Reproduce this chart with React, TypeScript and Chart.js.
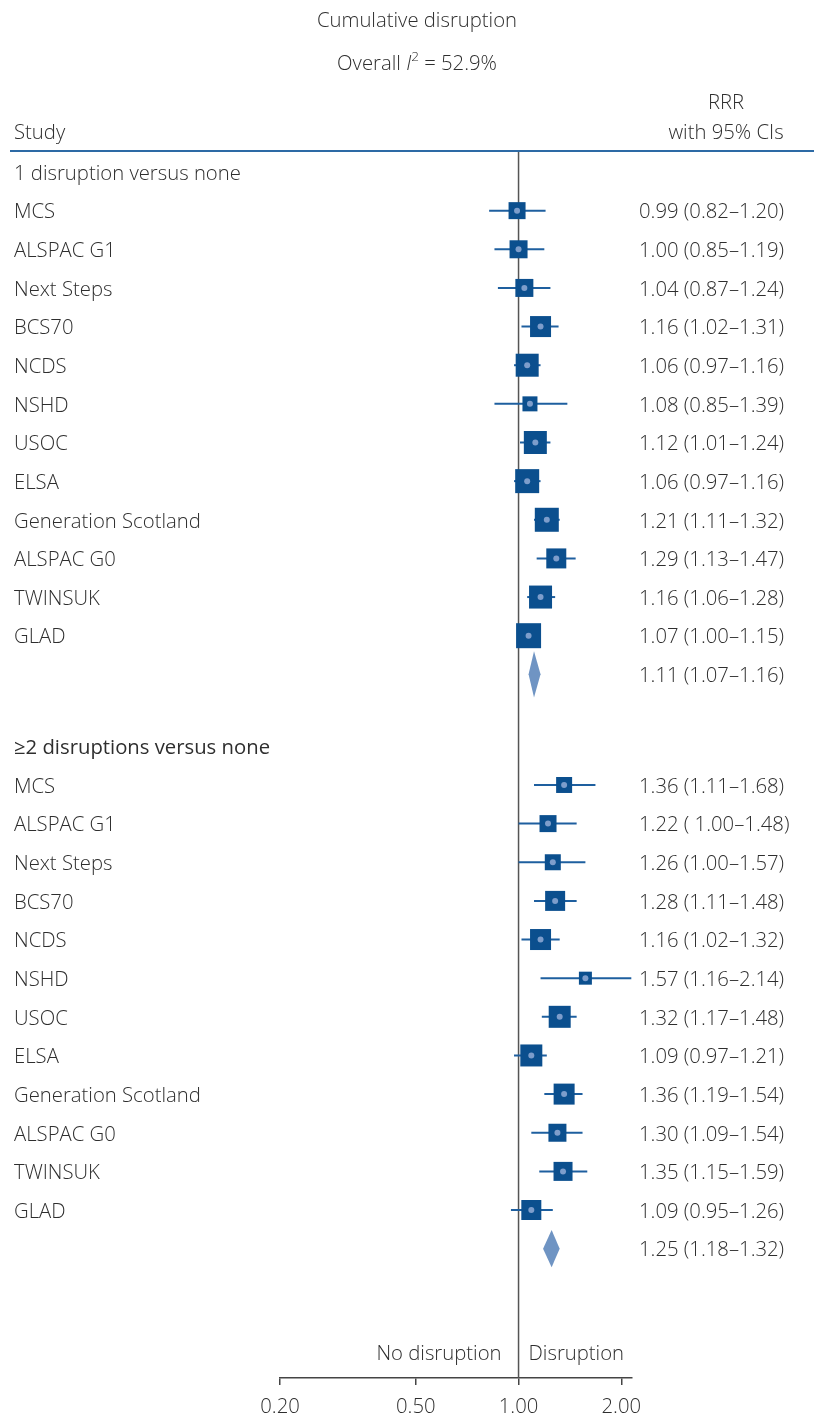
import { useEffect, useRef } from 'react';
import { Chart, registerables } from 'chart.js';

Chart.register(...registerables);

const W = 814;
const H = 1417;

// ---------- data ----------
const TITLE = 'Cumulative disruption';
const I2_VALUE = '52.9%';
const GROUP_HEADERS = ['1 disruption versus none', '\u22652 disruptions versus none'];
const STUDIES = [
  'MCS', 'ALSPAC G1', 'Next Steps', 'BCS70', 'NCDS', 'NSHD',
  'USOC', 'ELSA', 'Generation Scotland', 'ALSPAC G0', 'TWINSUK', 'GLAD',
];

const RRR_1 = [0.99, 1.0, 1.04, 1.16, 1.06, 1.08, 1.12, 1.06, 1.21, 1.29, 1.16, 1.07];
const LOW_1 = [0.82, 0.85, 0.87, 1.02, 0.97, 0.85, 1.01, 0.97, 1.11, 1.13, 1.06, 1.0];
const HIGH_1 = [1.2, 1.19, 1.24, 1.31, 1.16, 1.39, 1.24, 1.16, 1.32, 1.47, 1.28, 1.15];

const RRR_2 = [1.36, 1.22, 1.26, 1.28, 1.16, 1.57, 1.32, 1.09, 1.36, 1.3, 1.35, 1.09];
const LOW_2 = [1.11, 1.0, 1.0, 1.11, 1.02, 1.16, 1.17, 0.97, 1.19, 1.09, 1.15, 0.95];
const HIGH_2 = [1.68, 1.48, 1.57, 1.48, 1.32, 2.14, 1.48, 1.21, 1.54, 1.54, 1.59, 1.26];

const POOLED = [1.11, 1.25];
const POOLED_LOW = [1.07, 1.18];
const POOLED_HIGH = [1.16, 1.32];

// study weights shown as box side (px)
const BOX_1 = [17, 18, 18, 21, 23, 15, 23, 24, 24, 20, 23, 25];
const BOX_2 = [16, 17, 16, 20, 21, 13, 22, 22, 21, 18, 19, 20];

const X_TICKS = [0.2, 0.5, 1.0, 2.0];
const LEFT_LABEL = 'No disruption';
const RIGHT_LABEL = 'Disruption';

// ---------- layout / style ----------
const FONT = '"Open Sans", "Noto Sans", sans-serif';
const FS = 20.3;
const TEXT_COLOR = '#2e2e2e';
const BOX_COLOR = '#0b4f8e';
const CI_COLOR = '#1e5f9f';
const DOT_COLOR = '#7d9dcb';
const DIAMOND_COLOR = '#6f94c3';
const RULE_COLOR = '#2d6aa5';
const GROUP2_START = 14.863;
const DIAMOND_HALF = [0.6, 0.48];
const TDY = 2;

const fmt = (v: number) => v.toFixed(2);
const ciText = (v: number, lo: number, hi: number, pad = '') => `${fmt(v)} (${pad}${fmt(lo)}\u2013${fmt(hi)})`;

const groups = [
  { header: GROUP_HEADERS[0], start: 0, rrr: RRR_1, low: LOW_1, high: HIGH_1, box: BOX_1, hw: 300 },
  { header: GROUP_HEADERS[1], start: GROUP2_START, rrr: RRR_2, low: LOW_2, high: HIGH_2, box: BOX_2, hw: 400 },
];

function buildDatasets() {
  const ds: any[] = [];
  const pts: { x: number; y: number }[] = [];
  const radii: number[] = [];
  groups.forEach((g, gi) => {
    STUDIES.forEach((_, i) => {
      const y = g.start + 1 + i;
      ds.push({
        data: [{ x: g.low[i], y }, { x: g.high[i], y }],
        showLine: true,
        borderColor: CI_COLOR,
        borderWidth: 2,
        pointRadius: 0,
        order: 3,
      });
      pts.push({ x: g.rrr[i], y });
      radii.push(g.box[i] / Math.SQRT2);
    });
    const py = g.start + 13;
    const h = DIAMOND_HALF[gi];
    ds.push({
      data: [
        { x: POOLED_LOW[gi], y: py },
        { x: POOLED[gi], y: py - h },
        { x: POOLED_HIGH[gi], y: py },
        { x: POOLED[gi], y: py + h },
        { x: POOLED_LOW[gi], y: py },
      ],
      showLine: true,
      fill: 'shape',
      backgroundColor: DIAMOND_COLOR,
      borderColor: 'rgba(0,0,0,0)',
      borderWidth: 1,
      pointRadius: 0,
      tension: 0,
      order: 2,
    });
  });
  ds.push({
    data: pts,
    pointStyle: 'rect',
    pointRadius: radii,
    pointBackgroundColor: BOX_COLOR,
    pointBorderWidth: 0,
    order: 1,
  });
  ds.push({
    data: pts,
    pointStyle: 'circle',
    pointRadius: 3,
    pointBackgroundColor: DOT_COLOR,
    pointBorderWidth: 0,
    order: 0,
  });
  return ds;
}

const forestPlugin = {
  id: 'forestText',
  beforeDatasetsDraw(chart: any) {
    const { ctx, chartArea } = chart;
    const xs = chart.scales.x;
    const x1 = xs.getPixelForValue(1);
    ctx.save();
    ctx.strokeStyle = '#555';
    ctx.lineWidth = 1.5;
    ctx.beginPath();
    ctx.moveTo(x1, 151);
    ctx.lineTo(x1, chartArea.bottom);
    ctx.stroke();
    ctx.strokeStyle = RULE_COLOR;
    ctx.lineWidth = 2;
    ctx.beginPath();
    ctx.moveTo(10, 151);
    ctx.lineTo(W, 151);
    ctx.stroke();
    ctx.restore();
  },
  afterDraw(chart: any) {
    const { ctx, chartArea } = chart;
    const xs = chart.scales.x;
    const ys = chart.scales.y;
    const x1 = xs.getPixelForValue(1);
    const f = (size: number, style = '', weight = 300) => `${style} ${weight} ${size}px ${FONT}`;
    ctx.save();
    ctx.fillStyle = TEXT_COLOR;
    ctx.textBaseline = 'middle';
    ctx.font = f(FS);

    // titles
    ctx.textAlign = 'center';
    ctx.fillText(TITLE, 417, 19 + TDY);

    // Overall I^2 = ...
    const parts = [
      { t: 'Overall ', font: f(FS), dy: 0 },
      { t: 'I', font: f(FS, 'italic'), dy: 0 },
      { t: '2', font: f(13.5), dy: -7 },
      { t: ` = ${I2_VALUE}`, font: f(FS), dy: 0 },
    ];
    let total = 0;
    parts.forEach((p) => { ctx.font = p.font; total += ctx.measureText(p.t).width; });
    let cx = 417 - total / 2;
    ctx.textAlign = 'left';
    parts.forEach((p) => {
      ctx.font = p.font;
      ctx.fillText(p.t, cx, 62 + TDY + p.dy);
      cx += ctx.measureText(p.t).width;
    });

    ctx.font = f(FS);
    ctx.textAlign = 'center';
    ctx.fillText('RRR', 726, 101 + TDY);
    ctx.fillText('with 95% CIs', 726, 131 + TDY);
    ctx.textAlign = 'left';
    ctx.fillText('Study', 14, 131 + TDY);

    groups.forEach((g, gi) => {
      ctx.textAlign = 'left';
      ctx.font = f(FS, '', g.hw);
      ctx.fillText(g.header, 14, ys.getPixelForValue(g.start) + TDY);
      ctx.font = f(FS);
      STUDIES.forEach((s, i) => {
        const y = ys.getPixelForValue(g.start + 1 + i) + TDY;
        ctx.fillText(s, 14, y);
        const pad = gi === 1 && i === 1 ? ' ' : '';
        ctx.fillText(ciText(g.rrr[i], g.low[i], g.high[i], pad), 639, y);
      });
      ctx.fillText(
        ciText(POOLED[gi], POOLED_LOW[gi], POOLED_HIGH[gi]),
        639,
        ys.getPixelForValue(g.start + 13) + TDY,
      );
    });

    // direction labels
    const ly = chartArea.bottom - 26 + TDY;
    ctx.textAlign = 'right';
    ctx.fillText(LEFT_LABEL, x1 - 17, ly);
    ctx.textAlign = 'left';
    ctx.fillText(RIGHT_LABEL, x1 + 10, ly);
    ctx.restore();
  },
};

export default function App() {
  const ref = useRef<HTMLCanvasElement | null>(null);
  useEffect(() => {
    if (!ref.current) return;
    const chart = new Chart(ref.current, {
      type: 'scatter',
      data: { datasets: buildDatasets() },
      options: {
        animation: false,
        responsive: false,
        devicePixelRatio: 1,
        events: [],
        layout: { padding: { left: 280, right: 182, top: 151, bottom: 1 } },
        plugins: { legend: { display: false }, tooltip: { enabled: false }, title: { display: false } },
        scales: {
          x: {
            type: 'logarithmic',
            min: 0.2,
            max: 2.15,
            position: 'bottom',
            afterBuildTicks: (s: any) => { s.ticks = X_TICKS.map((v) => ({ value: v })); },
            afterFit: (s: any) => { s.height = 38; },
            grid: { drawOnChartArea: false, drawTicks: true, tickLength: 7, color: '#444', lineWidth: 1.5 },
            border: { display: true, color: '#444', width: 1.5 },
            ticks: {
              callback: (v: any) => Number(v).toFixed(2),
              font: { family: FONT, size: FS, weight: 300 as any },
              color: TEXT_COLOR,
              padding: 10,
              maxRotation: 0,
              autoSkip: false,
            },
          },
          y: { type: 'linear', min: -0.5435, max: 31.21, reverse: true, display: false },
        },
      } as any,
      plugins: [forestPlugin],
    });
    return () => chart.destroy();
  }, []);
  return (
    <div style={{ position: 'absolute', left: 0, top: 0, width: W, height: H, background: '#fff' }}>
      <canvas ref={ref} width={W} height={H} style={{ display: 'block', width: W, height: H }} />
    </div>
  );
}
